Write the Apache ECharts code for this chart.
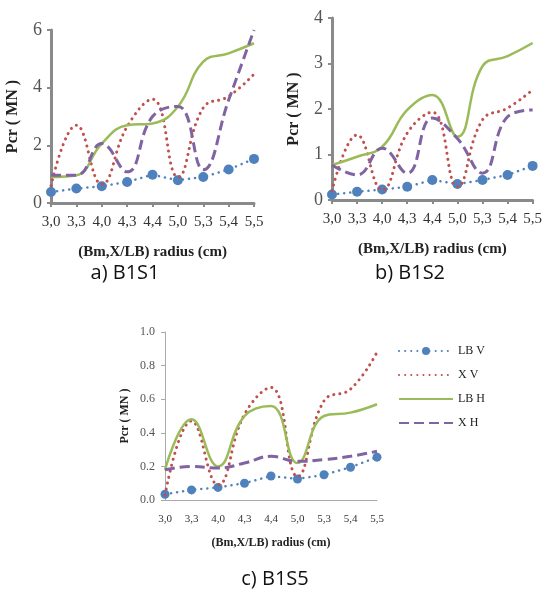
<!DOCTYPE html>
<html>
<head>
<meta charset="utf-8">
<script src="https://cdn.jsdelivr.net/npm/echarts@6/dist/echarts.min.js"></script>
<style>
  html, body { margin: 0; padding: 0; background: #fff; }
  #chart { width: 545px; height: 606px; }
</style>
</head>
<body>
<div id="chart"></div>
<script>
// radius categories (same for all three panels)
var radius = ['3,0', '3,3', '4,0', '4,3', '4,4', '5,0', '5,3', '5,4', '5,5'];
var seriesNames = ['LB V', 'X V', 'LB H', 'X H'];

// a) B1S1
var s1_lbv = [0.38, 0.50, 0.58, 0.73, 0.98, 0.79, 0.90, 1.16, 1.53];
var s1_xv  = [0.60, 2.70, 0.65, 2.65, 3.60, 0.90, 3.30, 3.70, 4.47];
var s1_lbh = [0.90, 0.96, 2.06, 2.70, 2.76, 3.34, 4.90, 5.19, 5.54];
var s1_xh  = [0.96, 0.96, 2.06, 1.08, 3.00, 3.35, 1.15, 3.57, 6.00];

// b) B1S2
var s2_lbv = [0.12, 0.18, 0.23, 0.29, 0.44, 0.35, 0.44, 0.55, 0.75];
var s2_xv  = [0.20, 1.43, 0.22, 1.47, 1.93, 0.29, 1.76, 2.02, 2.42];
var s2_lbh = [0.77, 0.95, 1.17, 1.98, 2.31, 1.39, 2.94, 3.16, 3.45];
var s2_xh  = [0.77, 0.55, 1.14, 0.59, 1.80, 1.35, 0.59, 1.83, 1.98];

// c) B1S5
var s5_lbv = [0.034, 0.06, 0.075, 0.10, 0.143, 0.125, 0.15, 0.195, 0.255];
var s5_xv  = [0.03, 0.47, 0.09, 0.51, 0.67, 0.14, 0.59, 0.66, 0.88];
var s5_lbh = [0.18, 0.48, 0.20, 0.50, 0.56, 0.22, 0.50, 0.52, 0.57];
var s5_xh  = [0.18, 0.20, 0.19, 0.22, 0.26, 0.23, 0.24, 0.26, 0.29];

var colors = ['#4F81BD', '#C0504D', '#9BBB59', '#8064A2'];
var serif = '"Liberation Serif", "DejaVu Serif", serif';

var myChart = echarts.init(document.getElementById('chart'));

function mkSeries(idx, data, k) {
  var s = {
    name: seriesNames[k],
    type: 'line',
    xAxisIndex: idx,
    yAxisIndex: idx,
    data: data,
    smooth: 0.45,
    symbol: 'none',
    color: colors[k],
    lineStyle: { color: colors[k], width: 2.5 },
    z: 2 + k
  };
  if (k === 0) {
    s.symbol = 'circle';
    s.symbolSize = idx === 2 ? 9 : 10;
    s.itemStyle = { color: colors[0] };
    s.lineStyle = { color: colors[0], width: 2.5, type: [0.1, 6], cap: 'round' };
    s.smooth = false;
  } else if (k === 1) {
    s.lineStyle = { color: colors[1], width: 3, type: [0.1, 6], cap: 'round' };
  } else if (k === 2) {
    s.lineStyle = { color: colors[2], width: 2.5 };
  } else {
    s.lineStyle = { color: colors[3], width: 3, type: [10, 5] };
  }
  return s;
}

var bigAxis = idx => idx < 2;

function xAxisOf(idx) {
  var big = bigAxis(idx);
  return {
    type: 'category',
    gridIndex: idx,
    data: radius,
    boundaryGap: false,
    name: '(Bm,X/LB) radius (cm)',
    nameLocation: 'middle',
    nameGap: big ? 42 : 37,
    nameTextStyle: { fontFamily: serif, fontWeight: 'bold', fontSize: big ? 15 : 12, color: '#222' },
    axisLine: { lineStyle: { color: big ? '#8a8a8a' : '#aaa', width: big ? 3 : 1 } },
    axisTick: { show: big, alignWithLabel: true, length: 4, lineStyle: { color: '#8a8a8a', width: 2 } },
    axisLabel: { interval: 0, fontFamily: serif, fontSize: big ? 15 : 11, color: '#333', margin: big ? 12 : 14 },
    splitLine: { show: false }
  };
}

function yAxisOf(idx, max, interval, gap) {
  var big = bigAxis(idx);
  return {
    type: 'value',
    gridIndex: idx,
    min: 0,
    max: max,
    interval: interval,
    name: 'Pcr ( MN )',
    nameLocation: 'middle',
    nameGap: gap,
    nameTextStyle: { fontFamily: serif, fontWeight: 'bold', fontSize: big ? 16 : 12, color: '#222' },
    axisLine: { show: true, lineStyle: { color: big ? '#8a8a8a' : '#aaa', width: big ? 3 : 1 } },
    axisTick: { show: true, length: 4, lineStyle: { color: big ? '#8a8a8a' : '#aaa', width: big ? 2 : 1 } },
    axisLabel: {
      fontFamily: serif, fontSize: big ? 18 : 12, color: '#555', margin: big ? 9 : 10,
      formatter: big ? '{value}' : function (v) { return v.toFixed(1); }
    },
    splitLine: { show: false }
  };
}

myChart.setOption({
  animation: false,
  grid: [
    { left: 51, top: 30, width: 203, height: 173 },
    { left: 332, top: 18, width: 201, height: 182 },
    { left: 165, top: 332, width: 212, height: 168 }
  ],
  xAxis: [xAxisOf(0), xAxisOf(1), xAxisOf(2)],
  yAxis: [yAxisOf(0, 6, 2, 30), yAxisOf(1, 4, 1, 30), yAxisOf(2, 1, 0.2, 34)],
  title: [
    { text: 'a) B1S1', left: 120, top: 258, textAlign: 'center',
      textStyle: { fontFamily: '"Open Sans", sans-serif', fontWeight: 'normal', fontSize: 20, color: '#111' } },
    { text: 'b) B1S2', left: 405, top: 258, textAlign: 'center',
      textStyle: { fontFamily: '"Open Sans", sans-serif', fontWeight: 'normal', fontSize: 20, color: '#111' } },
    { text: 'c) B1S5', left: 270, top: 564, textAlign: 'center',
      textStyle: { fontFamily: '"Open Sans", sans-serif', fontWeight: 'normal', fontSize: 20, color: '#111' } }
  ],
  legend: {
    data: [
      { name: 'LB V' },
      { name: 'X V', itemStyle: { opacity: 0 } },
      { name: 'LB H', itemStyle: { opacity: 0 } },
      { name: 'X H', itemStyle: { opacity: 0 } }
    ],
    orient: 'vertical',
    left: 393,
    top: 340,
    itemWidth: 54,
    itemHeight: 10,
    itemGap: 12,
    textStyle: { fontFamily: serif, fontSize: 12, color: '#222' }
  },
  series: [
    mkSeries(0, s1_lbv, 0), mkSeries(0, s1_xv, 1), mkSeries(0, s1_lbh, 2), mkSeries(0, s1_xh, 3),
    mkSeries(1, s2_lbv, 0), mkSeries(1, s2_xv, 1), mkSeries(1, s2_lbh, 2), mkSeries(1, s2_xh, 3),
    mkSeries(2, s5_lbv, 0), mkSeries(2, s5_xv, 1), mkSeries(2, s5_lbh, 2), mkSeries(2, s5_xh, 3)
  ]
});
</script>
</body>
</html>
